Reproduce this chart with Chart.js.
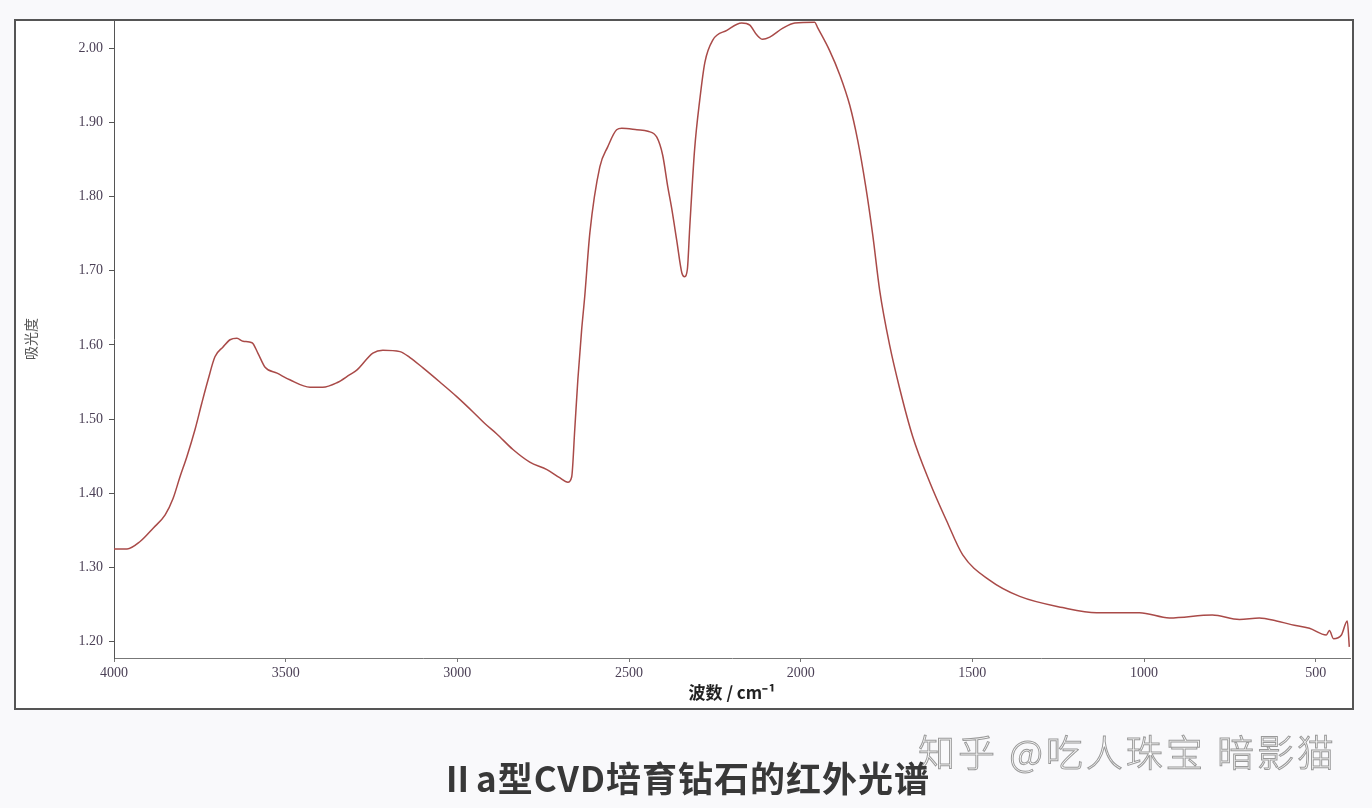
<!DOCTYPE html>
<html>
<head>
<meta charset="utf-8">
<script src="https://cdn.jsdelivr.net/npm/chart.js@4.4.1/dist/chart.umd.min.js"></script>
<style>
  body { margin: 0; background: #f9f9fb; }
  #wrap { position: relative; width: 1372px; height: 808px; overflow: hidden; }
  #frame { position: absolute; left: 14px; top: 19px; width: 1336px; height: 687px; border: 2px solid #555; background: #fff; }
  #myChart { position: absolute; left: 0; top: 0; }
  #caption { position: absolute; left: 440px; top: 751px; line-height: 40px; font: bold 35px "Noto Sans CJK SC", "Noto Sans", sans-serif; color: #383838; letter-spacing: 1px; white-space: nowrap; }
  #mark { position: absolute; left: 918px; top: 724px; line-height: 40px; font: 300 37px "Noto Sans CJK SC", sans-serif; color: #fff; -webkit-text-stroke: 1px #9a9a9a; letter-spacing: 3px; white-space: nowrap; }
</style>
</head>
<body>
<div id="wrap">
  <div id="frame"></div>
  <canvas id="myChart" width="1372" height="808"></canvas>
  <div id="mark">知乎 @吃人珠宝 暗影猫</div>
  <div id="caption">Ⅱa型CVD培育钻石的红外光谱</div>
</div>
<script>
// wavenumber (cm-1) and absorbance
const wavenumber = [4000, 3962, 3924, 3886, 3851, 3828, 3808, 3788, 3764, 3744, 3726, 3706, 3683, 3662, 3642, 3624, 3598, 3581, 3560, 3525, 3488, 3429, 3392, 3351, 3313, 3293, 3246, 3217, 3167, 3138, 3100, 3051, 3001, 2955, 2920, 2885, 2838, 2789, 2739, 2702, 2678, 2667, 2658, 2649, 2638, 2629, 2614, 2585, 2562, 2536, 2521, 2477, 2445, 2419, 2402, 2387, 2376, 2361, 2346, 2338, 2330, 2323, 2309, 2294, 2279, 2256, 2215, 2172, 2148, 2128, 2111, 2090, 2052, 2017, 1959, 1951, 1916, 1886, 1857, 1834, 1811, 1790, 1770, 1741, 1712, 1674, 1624, 1575, 1528, 1450, 1362, 1237, 1138, 1013, 926, 801, 722, 664, 614, 571, 518, 469, 460, 448, 425, 408, 402];
const absorbance = [1.325, 1.325, 1.335, 1.353, 1.371, 1.393, 1.422, 1.449, 1.486, 1.522, 1.553, 1.584, 1.597, 1.607, 1.609, 1.605, 1.603, 1.589, 1.570, 1.562, 1.553, 1.543, 1.543, 1.549, 1.560, 1.566, 1.589, 1.593, 1.591, 1.583, 1.569, 1.550, 1.530, 1.510, 1.494, 1.480, 1.459, 1.442, 1.432, 1.421, 1.415, 1.422, 1.486, 1.553, 1.620, 1.665, 1.751, 1.840, 1.867, 1.890, 1.892, 1.890, 1.888, 1.880, 1.856, 1.813, 1.785, 1.741, 1.697, 1.692, 1.702, 1.759, 1.863, 1.930, 1.981, 2.011, 2.024, 2.034, 2.031, 2.018, 2.012, 2.015, 2.027, 2.034, 2.035, 2.028, 1.997, 1.964, 1.923, 1.876, 1.815, 1.748, 1.674, 1.600, 1.542, 1.477, 1.415, 1.363, 1.317, 1.283, 1.261, 1.246, 1.239, 1.239, 1.232, 1.236, 1.230, 1.232, 1.228, 1.223, 1.218, 1.209, 1.215, 1.204, 1.209, 1.228, 1.193];

const xTicks = [4000, 3500, 3000, 2500, 2000, 1500, 1000, 500];
const yTicks = [1.2, 1.3, 1.4, 1.5, 1.6, 1.7, 1.8, 1.9, 2.0];

const points = wavenumber.map((w, i) => ({ x: w, y: absorbance[i] }));

const tickFont = { family: 'Liberation Serif', size: 14 };
const inkColor = '#4a3f55';

const config = {
    type: 'line',
    data: {
        datasets: [{
            label: '吸光度',
            data: points,
            borderColor: '#a94a48',
            borderWidth: 1.5,
            pointRadius: 0,
            cubicInterpolationMode: 'monotone',
            fill: false
        }]
    },
    options: {
        responsive: false,
        animation: false,
        layout: { padding: { left: 16, top: 20, right: 22, bottom: 100 } },
        plugins: { legend: { display: false }, tooltip: { enabled: false } },
        scales: {
            x: {
                type: 'linear',
                reverse: true,
                min: 400,
                max: 4000,
                afterFit: function (scale) { scale.height = 50; },
                afterBuildTicks: function (scale) { scale.ticks = xTicks.map(v => ({ value: v })); },
                grid: { drawOnChartArea: false, tickLength: 4, color: '#777' },
                border: { color: '#777', width: 1 },
                ticks: {
                    font: tickFont,
                    color: inkColor,
                    padding: 3,
                    maxRotation: 0,
                    callback: function (v) { return String(v); }
                },
                title: {
                    display: true,
                    text: '波数 / cm⁻¹',
                    font: { family: 'Noto Sans CJK SC', size: 17, weight: 'bold' },
                    color: '#222',
                    padding: { top: 0, bottom: 5 }
                }
            },
            y: {
                min: 1.178,
                max: 2.038,
                afterFit: function (scale) { scale.width = 98; },
                afterBuildTicks: function (scale) { scale.ticks = yTicks.map(v => ({ value: v })); },
                grid: { drawOnChartArea: false, tickLength: 5, color: '#555' },
                border: { color: '#555', width: 1 },
                ticks: {
                    font: tickFont,
                    color: inkColor,
                    padding: 6,
                    callback: function (v) { return v.toFixed(2); }
                },
                title: {
                    display: true,
                    text: '吸光度',
                    font: { family: 'Noto Sans CJK SC', size: 14 },
                    color: '#555',
                    padding: { top: 6, bottom: 0 }
                }
            }
        }
    }
};

var myChart = new Chart(document.getElementById('myChart'), config);
</script>
</body>
</html>
